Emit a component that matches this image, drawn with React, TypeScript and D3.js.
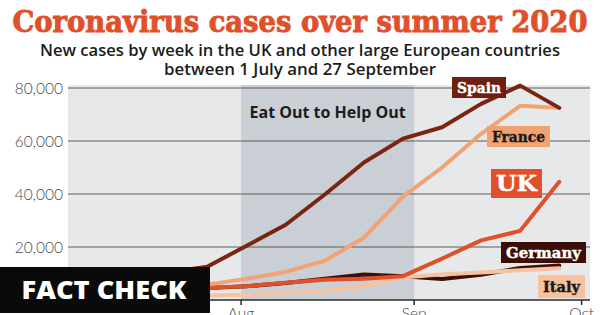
import React from "react";
import * as d3 from "d3";

const weeks = ["2020-07-05","2020-07-12","2020-07-19","2020-07-26","2020-08-02","2020-08-09","2020-08-16","2020-08-23","2020-08-30","2020-09-06","2020-09-13","2020-09-20","2020-09-27"];
const spain = [4500, 6500, 10500, 12600, 20500, 28400, 39800, 51900, 60900, 65200, 74000, 80900, 72500];
const france = [3500, 4300, 5000, 5800, 8000, 10600, 14800, 23500, 39000, 50000, 62700, 73300, 72500];
const uk = [4000, 4300, 4500, 4600, 5200, 6500, 7600, 8000, 9000, 15600, 22500, 26100, 44600];
const germany = [2800, 3000, 3500, 4500, 5200, 6400, 8000, 9600, 9000, 7900, 9500, 12100, 13000];
const italy = [1200, 1300, 1500, 1700, 2000, 2800, 3500, 5200, 8500, 9700, 10400, 11200, 12000];
const yTicks = [20000, 40000, 60000, 80000];
const xTickDates = ["2020-08-01", "2020-09-01", "2020-10-01"];
const xTickLabels = ["Aug", "Sep", "Oct"];
const shadeStart = "2020-08-01";
const shadeEnd = "2020-09-01";

const title = "Coronavirus cases over summer 2020";
const sub1 = "New cases by week in the UK and other large European countries";
const sub2 = "between 1 July and 27 September";

const parse = d3.timeParse("%Y-%m-%d");

export default function App() {
  const x = d3.scaleTime().domain([parse("2020-07-01")!, new Date(2020, 9, 2, 12)]).range([68, 590]);
  const y = d3.scaleLinear().domain([0, 80000]).range([300, 88]);
  const dates = weeks.map((w) => parse(w)!);
  const line = d3.line<number>().x((_, i) => x(dates[i])).y((v) => y(v)).curve(d3.curveLinear);

  const series = [
    { name: "Germany", values: germany, color: "#3f0f07" },
    { name: "Italy", values: italy, color: "#f6c3a0" },
    { name: "UK", values: uk, color: "#e0512a" },
    { name: "France", values: france, color: "#f2a273" },
    { name: "Spain", values: spain, color: "#7a2511" },
  ];

  const slab = "'DejaVu Serif', 'Liberation Serif', serif";
  const sans = "'Open Sans', 'Lato', sans-serif";

  const labels = [
    { text: "Spain", x: 452, y: 77, w: 54, h: 21, bg: "#6e1f0f", fg: "#ffffff", fs: 14 },
    { text: "France", x: 487, y: 126, w: 63, h: 21, bg: "#f0a272", fg: "#1a1a1a", fs: 14 },
    { text: "UK", x: 491, y: 169, w: 51, h: 29, bg: "#e0502a", fg: "#ffffff", fs: 22 },
    { text: "Germany", x: 501, y: 242, w: 85, h: 21, bg: "#3a0d06", fg: "#ffffff", fs: 14 },
    { text: "Italy", x: 538, y: 275, w: 47, h: 23, bg: "#f6c19c", fg: "#1a1a1a", fs: 14 },
  ];

  return (
    <svg width={600} height={315} style={{ position: "absolute", left: 0, top: 0, background: "#ffffff" }}>
      <rect x={0} y={0} width={600} height={315} fill="#ffffff" />
      <text x={300} y={32} textAnchor="middle" fontFamily={slab} fontWeight="bold" fontSize={29} fill="#e0502a" stroke="#e0502a" strokeWidth={0.9} textLength={575} lengthAdjust="spacingAndGlyphs">{title}</text>
      <text x={300} y={56} textAnchor="middle" fontFamily={sans} fontWeight={600} fontSize={16.5} fill="#1c1c1c" textLength={520} lengthAdjust="spacingAndGlyphs">{sub1}</text>
      <text x={300} y={75} textAnchor="middle" fontFamily={sans} fontWeight={600} fontSize={16.5} fill="#1c1c1c" textLength={272} lengthAdjust="spacingAndGlyphs">{sub2}</text>

      <rect x={x.range()[0]} y={85} width={x.range()[1] - x.range()[0]} height={y(0) - 85} fill="#e6e8ea" />
      <rect x={x(parse(shadeStart)!)} y={85} width={x(parse(shadeEnd)!) - x(parse(shadeStart)!)} height={y(0) - 85} fill="#c9cfd5" />
      <text x={(x(parse(shadeStart)!) + x(parse(shadeEnd)!)) / 2} y={118} textAnchor="middle" fontFamily={sans} fontWeight={700} fontSize={16} fill="#1c1c1c">Eat Out to Help Out</text>

      {yTicks.map((t) => (
        <g key={t}>
          <line x1={68} x2={590} y1={y(t)} y2={y(t)} stroke="#5c5c5c" strokeWidth={1} />
          <text x={63} y={y(t) + 5.5} textAnchor="end" fontFamily="'Lato', sans-serif" fontWeight={300} fontSize={15.5} fill="#4a4a4a">{d3.format(",")(t)}</text>
        </g>
      ))}

      {series.map((s) => (
        <path key={s.name} d={line(s.values) || ""} fill="none" stroke={s.color} strokeWidth={4} strokeLinejoin="round" strokeLinecap="round" />
      ))}

      <line x1={68} x2={590} y1={y(0)} y2={y(0)} stroke="#2a2a2a" strokeWidth={1.5} />
      {xTickDates.map((d, i) => (
        <g key={d}>
          <line x1={x(parse(d)!)} x2={x(parse(d)!)} y1={y(0)} y2={y(0) + 5} stroke="#2a2a2a" strokeWidth={1.5} />
          <text x={x(parse(d)!)} y={y(0) + 19} textAnchor="middle" fontFamily="'Lato', sans-serif" fontWeight={300} fontSize={15.5} fill="#4a4a4a">{xTickLabels[i]}</text>
        </g>
      ))}

      {labels.map((l) => (
        <g key={l.text}>
          <rect x={l.x} y={l.y} width={l.w} height={l.h} fill={l.bg} />
          <text x={l.x + l.w / 2} y={l.y + l.h / 2 + l.fs * 0.36} textAnchor="middle" fontFamily={slab} fontWeight="bold" fontSize={l.fs} fill={l.fg} stroke={l.fg} strokeWidth={0.4} textLength={l.w - 10} lengthAdjust="spacingAndGlyphs">{l.text}</text>
        </g>
      ))}

      <rect x={0} y={267} width={210} height={46} fill="#0a0a0a" />
      <text x={104} y={299} textAnchor="middle" fontFamily="'Open Sans', sans-serif" fontWeight={800} fontSize={25} fill="#ffffff" textLength={165} lengthAdjust="spacingAndGlyphs">FACT CHECK</text>
    </svg>
  );
}
